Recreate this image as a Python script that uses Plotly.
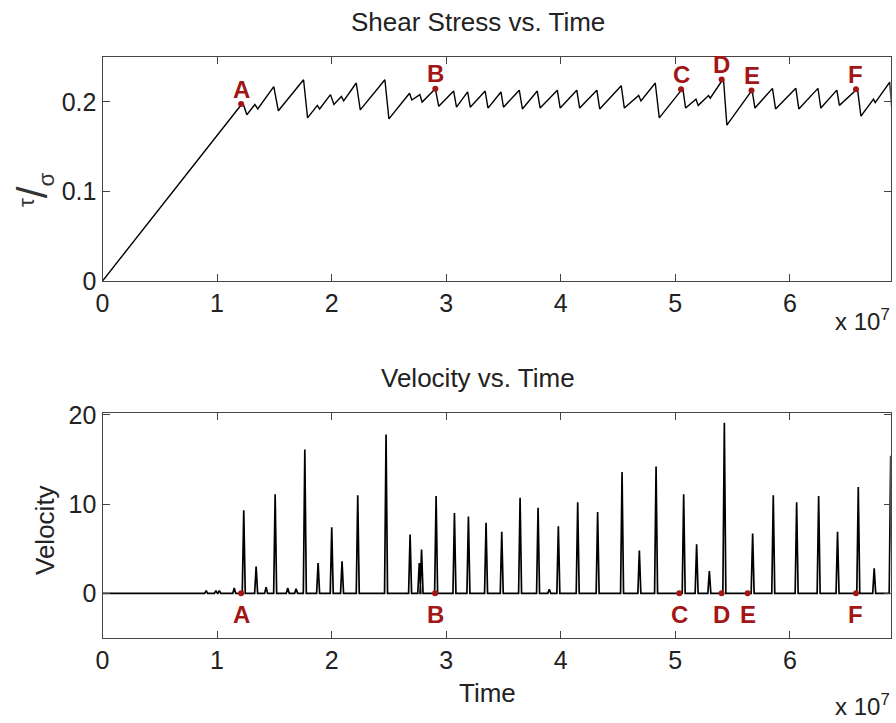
import plotly.graph_objects as go

W, H = 896, 723

# ---------------- data (time in units of 1e7) ----------------
stress_t = [0.0, 1.225, 1.26, 1.33, 1.355, 1.495, 1.535, 1.755, 1.79, 1.875, 1.895,
            1.99, 2.02, 2.085, 2.105, 2.215, 2.25, 2.465, 2.50, 2.68, 2.70, 2.77, 2.79,
            2.905, 2.935, 3.065, 3.09, 3.187, 3.21, 3.34, 3.365, 3.478, 3.50, 3.638, 3.665,
            3.795, 3.82, 3.97, 3.995, 4.14, 4.165, 4.315, 4.34, 4.528, 4.555, 4.68, 4.70,
            4.825, 4.86, 5.065, 5.09, 5.18, 5.20, 5.29, 5.305, 5.42, 5.45, 5.67, 5.695,
            5.848, 5.875, 6.052, 6.078, 6.245, 6.27, 6.41, 6.432, 6.59, 6.62, 6.73, 6.745,
            6.872, 6.89]
stress_v = [0.0, 0.199, 0.1855, 0.197, 0.192, 0.217, 0.19, 0.2246, 0.182, 0.196, 0.192,
            0.208, 0.197, 0.206, 0.201, 0.221, 0.191, 0.2246, 0.181, 0.2095, 0.202, 0.208, 0.1997,
            0.2145, 0.195, 0.212, 0.194, 0.211, 0.194, 0.212, 0.193, 0.211, 0.194, 0.213, 0.192,
            0.212, 0.193, 0.213, 0.193, 0.213, 0.193, 0.213, 0.192, 0.218, 0.193, 0.207, 0.201,
            0.221, 0.182, 0.215, 0.193, 0.203, 0.196, 0.207, 0.204, 0.226, 0.174, 0.213, 0.193,
            0.215, 0.192, 0.215, 0.192, 0.215, 0.193, 0.213, 0.196, 0.2145, 0.184, 0.203, 0.199,
            0.222, 0.19]

spike_t = [0.905, 0.99, 1.02, 1.15, 1.233, 1.341, 1.428, 1.507, 1.617, 1.69, 1.766, 1.882,
           2.001, 2.091, 2.228, 2.475, 2.685, 2.765, 2.785, 2.912, 3.072, 3.194, 3.348, 3.485,
           3.645, 3.802, 3.9, 3.979, 4.148, 4.322, 4.535, 4.686, 4.832, 5.073, 5.186, 5.297,
           5.428, 5.675, 5.855, 6.059, 6.251, 6.416, 6.597, 6.736, 6.88]
spike_h = [0.3, 0.3, 0.3, 0.6, 9.3, 3.0, 0.7, 11.1, 0.6, 0.5, 16.1, 3.4,
           7.4, 3.6, 11.0, 17.8, 6.6, 3.4, 4.9, 10.9, 9.0, 8.6, 7.9, 6.9,
           10.7, 9.6, 0.45, 7.5, 10.2, 9.1, 13.6, 4.8, 14.2, 11.1, 5.5, 2.5,
           19.1, 6.7, 11.0, 10.2, 10.9, 6.9, 11.9, 2.8, 15.4]

event_labels = ['A', 'B', 'C', 'D', 'E', 'F']
event_t_top = [1.21, 2.905, 5.05, 5.404, 5.665, 6.577]
event_v_top = [0.1975, 0.2145, 0.214, 0.225, 0.2126, 0.214]
event_t_bot = [1.21, 2.903, 5.035, 5.404, 5.631, 6.577]

x_ticks = [0, 1, 2, 3, 4, 5, 6]
x_max = 6.88

# ---------------- build spike polyline ----------------
half_w = 0.013
vel_x, vel_y = [0.0], [0.0]
for t, h in zip(spike_t, spike_h):
    vel_x += [t - half_w, t, t + half_w]
    vel_y += [0.0, h, 0.0]
vel_x.append(x_max + 0.1)
vel_y.append(0.0)

RED = '#a31616'
INK = '#222222'
FONT = 'Liberation Sans, Arial, Helvetica, sans-serif'

fig = go.Figure()
fig.add_trace(go.Scatter(x=stress_t, y=stress_v, mode='lines',
                         line=dict(color='black', width=1.4), xaxis='x', yaxis='y',
                         showlegend=False, hoverinfo='skip'))
fig.add_trace(go.Scatter(x=event_t_top, y=event_v_top, mode='markers',
                         marker=dict(color=RED, size=6), xaxis='x', yaxis='y',
                         showlegend=False))
fig.add_trace(go.Scatter(x=vel_x, y=vel_y, mode='lines',
                         line=dict(color='black', width=1.7), xaxis='x2', yaxis='y2',
                         showlegend=False, hoverinfo='skip'))
fig.add_trace(go.Scatter(x=event_t_bot, y=[0] * len(event_t_bot), mode='markers',
                         marker=dict(color=RED, size=6), xaxis='x2', yaxis='y2',
                         showlegend=False))

ann = []
for lab, t, v in zip(event_labels, event_t_top, event_v_top):
    ann.append(dict(x=t, y=v, xref='x', yref='y', text='<b>' + lab + '</b>', showarrow=False,
                    xanchor='center', yanchor='middle', yshift=15,
                    font=dict(color=RED, size=24, family=FONT)))
for lab, t in zip(event_labels, event_t_bot):
    ann.append(dict(x=t, y=0, xref='x2', yref='y2', text='<b>' + lab + '</b>', showarrow=False,
                    xanchor='center', yanchor='middle', yshift=-21,
                    font=dict(color=RED, size=24, family=FONT)))


def px(x):
    return x / W


def py(y):
    return 1 - y / H


tfont = dict(size=26, color=INK, family=FONT)


def txt(x, y, s, font=tfont, **kw):
    d = dict(x=px(x), y=py(y), xref='paper', yref='paper', text=s, showarrow=False,
             xanchor='center', yanchor='middle', font=font)
    d.update(kw)
    return d


ann += [
    txt(478, 22, 'Shear Stress vs. Time'),
    txt(478, 378, 'Velocity vs. Time'),
    txt(488, 693, 'Time'),
    txt(45, 530, 'Velocity', textangle=-90),
    txt(34, 190, '<sup>τ</sup><span style="font-size:42px">/</span><sub>σ</sub>',
        font=dict(size=32, color='#333333', family=FONT), textangle=-90),
    txt(892, 320, 'x 10<sup>7</sup>', font=dict(size=24, color=INK, family=FONT), xanchor='right'),
    txt(892, 705, 'x 10<sup>7</sup>', font=dict(size=24, color=INK, family=FONT), xanchor='right'),
]

axis_common = dict(showline=True, mirror='ticks', linecolor='#444', linewidth=1.2,
                   ticks='inside', ticklen=7, tickcolor='#444', showgrid=False, zeroline=False,
                   automargin=False,
                   tickfont=dict(size=25, color=INK, family=FONT))

x_dom = [px(102.5), px(890.7)]
fig.update_layout(
    width=W, height=H, margin=dict(l=0, r=0, t=0, b=0, autoexpand=False),
    paper_bgcolor='white', plot_bgcolor='white',
    xaxis=dict(domain=x_dom, range=[0, x_max], tickvals=x_ticks, anchor='y', **axis_common),
    yaxis=dict(domain=[py(281), py(57)], range=[0, 0.25], tickvals=[0, 0.1, 0.2],
               ticktext=['0', '0.1', '0.2'], anchor='x', **axis_common),
    xaxis2=dict(domain=x_dom, range=[0, x_max], tickvals=x_ticks, anchor='y2', **axis_common),
    yaxis2=dict(domain=[py(638), py(413)], range=[-5, 20.2], tickvals=[0, 10, 20],
                anchor='x2', **axis_common),
    annotations=ann,
)

fig.write_html('out.html')
